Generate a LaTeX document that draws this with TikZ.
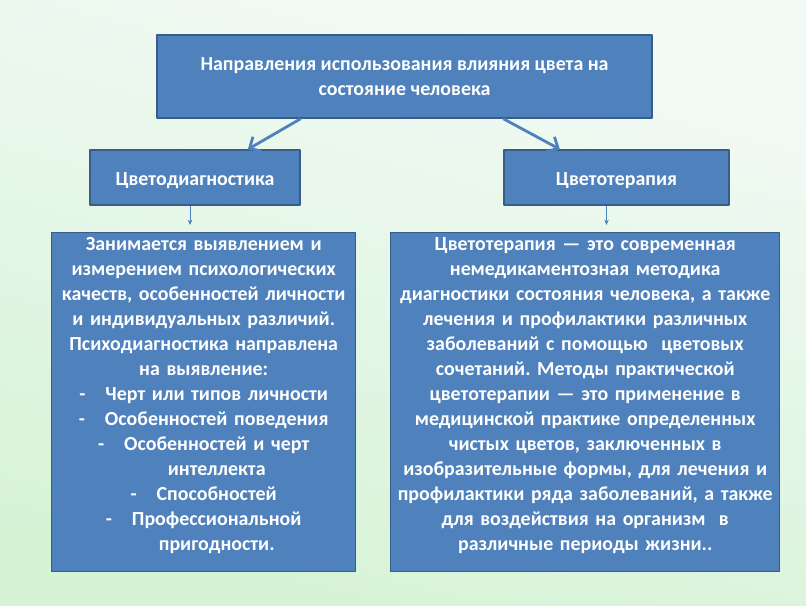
\documentclass[tikz,border=0pt]{standalone}
\usepackage{fontspec}
\setmainfont{Carlito}
\usepackage{xcolor}
\usetikzlibrary{arrows.meta,calc}
\definecolor{boxblue}{HTML}{4F81BD}
\definecolor{boxline}{HTML}{385D8A}
\definecolor{bgtop}{HTML}{F3FAF6}
\definecolor{bgbot}{HTML}{D6F3D6}
\tikzset{
  every picture/.style={line join=round, >=Stealth},
  blk/.style={draw=boxline, fill=boxblue, line width=1.2pt, text=white, align=center,
    font=\bfseries\fontsize{17}{21.3}\selectfont},
  midbox/.style={blk, text height=0.55cm, text depth=0.1cm, minimum height=1.65cm},
  txtbox/.style={blk, anchor=north west, inner sep=0pt, text height=0.54cm, text depth=9.63cm},
  bigarrow/.style={draw=boxblue, line width=2.4pt, -{Straight Barb[length=2.6mm,width=5mm]}},
  smallarrow/.style={draw=boxblue, line width=0.7pt, -{Stealth[length=1.6mm,width=1.4mm]}, shorten >=0.21cm},
}
\newcommand{\dashitem}{-\hspace{1em}}
\frenchspacing

\begin{document}
\begin{tikzpicture}[x=0.03cm,y=-0.03cm]
\shade[top color=bgtop,bottom color=bgbot,shading angle=-15](0,0)rectangle(806,605);
\node[blk,minimum width=14.85cm,minimum height=2.49cm](top)at(404.5,76.5)
  {Направления использования влияния цвета на\\состояние человека};
\node[midbox,minimum width=6.3cm](lmid)at(195,177.5){Цветодиагностика};
\node[midbox,minimum width=6.75cm](rmid)at(616.5,177.5){Цветотерапия};
\node[txtbox,text width=9.12cm](lbox)at(51,232){%
  Занимается выявлением и\\
  измерением психологических\\
  качеств, особенностей личности\\
  и индивидуальных различий.\\
  Психодиагностика направлена\\
  на выявление:\\
  \dashitem Черт или типов личности\\
  \dashitem Особенностей поведения\\
  \dashitem Особенностей и черт\\
  \phantom{\dashitem}интеллекта\\
  \dashitem Способностей\\
  \dashitem Профессиональной\\
  \phantom{\dashitem}пригодности.};
\node[txtbox,text width=11.67cm](rbox)at(390,232){%
  Цветотерапия — это современная\\
  немедикаментозная методика\\
  диагностики состояния человека, а также\\
  лечения и профилактики различных\\
  заболеваний с помощью\ \ цветовых\\
  сочетаний. Методы практической\\
  цветотерапии — это применение в\\
  медицинской практике определенных\\
  чистых цветов, заключенных в\\
  изобразительные формы, для лечения и\\
  профилактики ряда заболеваний, а также\\
  для воздействия на организм\ \ в\\
  различные периоды жизни..};
% connectors
\draw[bigarrow](top.south -| lmid.north east)--($(lmid.north)!.5!(lmid.north east)$);
\draw[bigarrow](top.south -| rmid.north west)--($(rmid.north)!.5!(rmid.north west)$);
\draw[smallarrow]([xshift=-0.15cm]lmid.south)--([xshift=-0.15cm]lmid.south |- lbox.north);
\draw[smallarrow]([xshift=-0.3cm]rmid.south)--([xshift=-0.3cm]rmid.south |- rbox.north);
\end{tikzpicture}
\end{document}
